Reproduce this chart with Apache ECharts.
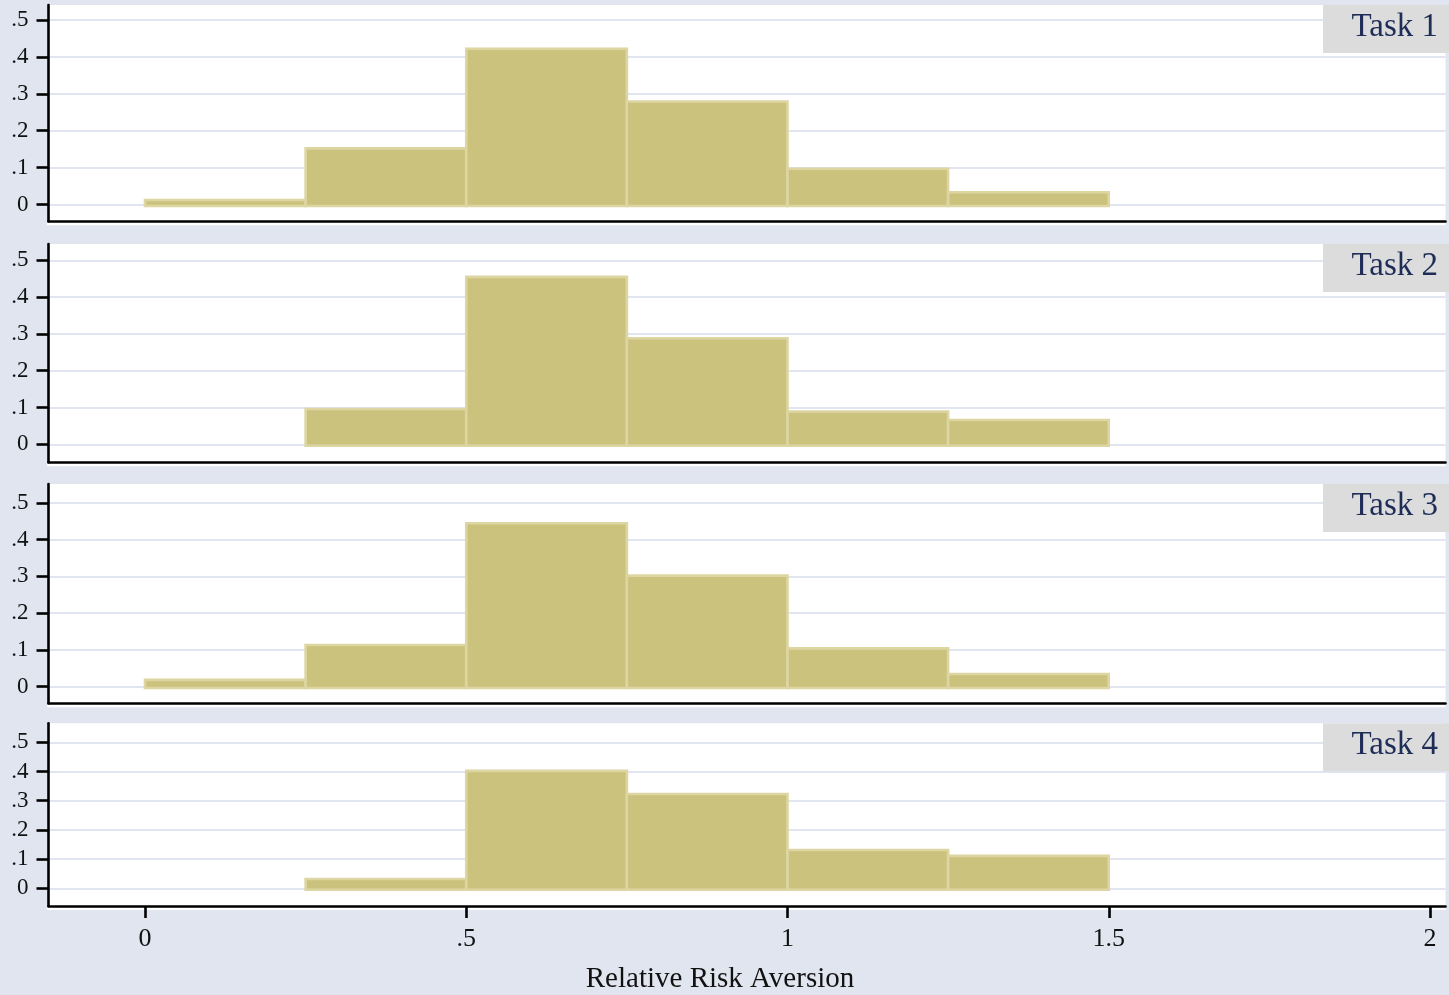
<!DOCTYPE html>
<html>
<head>
<meta charset="utf-8">
<script src="https://cdn.jsdelivr.net/npm/echarts@6/dist/echarts.min.js"></script>
<style>
  html, body { margin: 0; padding: 0; background: #e1e5f0; }
  #chart { width: 1449px; height: 995px; }
</style>
</head>
<body>
<div id="chart"></div>
<script>
// Histogram bins of relative risk aversion (width 0.25), fraction of subjects per bin
const binEdges = [0, 0.25, 0.5, 0.75, 1, 1.25, 1.5];
const panelNames = ['Task 1', 'Task 2', 'Task 3', 'Task 4'];
const task1 = [0.012, 0.152, 0.422, 0.279, 0.097, 0.033];
const task2 = [0, 0.096, 0.455, 0.288, 0.089, 0.066];
const task3 = [0.018, 0.113, 0.445, 0.302, 0.104, 0.034];
const task4 = [0, 0.032, 0.402, 0.323, 0.131, 0.111];
const fractions = [task1, task2, task3, task4];

const yTickValues = [0, 0.1, 0.2, 0.3, 0.4, 0.5];
const yTickLabels = ['0', '.1', '.2', '.3', '.4', '.5'];
const xTickValues = [0, 0.5, 1, 1.5, 2];
const xTickLabels = ['0', '.5', '1', '1.5', '2'];
const xTitle = 'Relative Risk Aversion';

// Panel geometry (pixels): top of plot, x-axis line, pixel of y = 0, pixels per unit
const panels = [
  { top: 5,     axis: 221.3, zero: 204.5, unit: 369 },
  { top: 244,   axis: 462.3, zero: 444.3, unit: 368 },
  { top: 484,   axis: 703.3, zero: 686.5, unit: 367 },
  { top: 723.3, axis: 906,   zero: 888.3, unit: 292 }
];
const plotLeft = 48.5, plotRight = 1445.5, xZeroPx = 145, xUnit = 642.5;
const xMin = (plotLeft - xZeroPx) / xUnit;
const xMax = (plotRight - xZeroPx) / xUnit;

const BG = '#e1e5f0';
const GRID = '#e1e5f0';
const BAR = '#cbc27e';
const BAR_EDGE = '#ddd6a2';
const FONT = '"Liberation Serif", "DejaVu Serif", serif';

function labelFrom(values, labels) {
  return v => {
    let idx = values.findIndex(t => Math.abs(t - v) < 1e-9);
    return idx >= 0 ? labels[idx] : '';
  };
}

const grids = [], xAxes = [], yAxes = [], series = [], graphics = [];

panels.forEach((p, i) => {
  const last = i === panels.length - 1;
  grids.push({
    left: plotLeft, width: plotRight - plotLeft,
    top: p.top, height: p.axis - p.top,
    show: true, backgroundColor: '#ffffff', borderWidth: 0,
    containLabel: false
  });
  xAxes.push({
    type: 'value', gridIndex: i, min: xMin, max: xMax,
    axisLine: { show: true, onZero: false, lineStyle: { color: '#000', width: 2.6 } },
    axisTick: { show: last, customValues: xTickValues, length: 12, inside: false,
                lineStyle: { color: '#000', width: 2.6 } },
    axisLabel: { show: last, customValues: xTickValues, margin: 20,
                 formatter: labelFrom(xTickValues, xTickLabels),
                 fontFamily: FONT, fontSize: 26, lineHeight: 26, color: '#111' },
    splitLine: { show: false }
  });
  yAxes.push({
    type: 'value', gridIndex: i,
    min: -(p.axis - p.zero) / p.unit,
    max: (p.zero - p.top) / p.unit,
    axisLine: { show: true, onZero: false, lineStyle: { color: '#000', width: 2.6 } },
    axisTick: { show: true, customValues: yTickValues, length: 12,
                lineStyle: { color: '#000', width: 2.6 } },
    axisLabel: { show: true, customValues: yTickValues, margin: 20,
                 formatter: labelFrom(yTickValues, yTickLabels),
                 fontFamily: FONT, fontSize: 23, color: '#111' },
    splitLine: { show: true, lineStyle: { color: GRID, width: 2.2 } }
  });

  const data = [];
  fractions[i].forEach((v, b) => {
    if (v > 0) data.push([binEdges[b], binEdges[b + 1], v]);
  });
  series.push({
    type: 'custom', xAxisIndex: i, yAxisIndex: i,
    encode: { x: [0, 1], y: 2 },
    data: data,
    renderItem: function (params, api) {
      const a = api.coord([api.value(0), api.value(2)]);
      const b = api.coord([api.value(1), 0]);
      return {
        type: 'rect',
        shape: { x: a[0], y: a[1], width: b[0] - a[0], height: b[1] - a[1] + 1.5 },
        style: { fill: BAR, stroke: BAR_EDGE, lineWidth: 2.6 }
      };
    }
  });

  // White strip just below the x-axis line
  graphics.push({
    type: 'rect', z: 0,
    shape: { x: plotLeft - 1.5, y: p.axis + 1.3, width: plotRight - plotLeft + 1.5, height: 2.7 },
    style: { fill: '#ffffff' }
  });
  // Panel caption box
  graphics.push({
    type: 'rect', z: 10,
    shape: { x: 1323, y: p.top, width: 126, height: 48 },
    style: { fill: '#dcdcdc' }
  });
  graphics.push({
    type: 'text', z: 11,
    x: 1438, y: p.top + 22,
    style: { text: panelNames[i], font: '33px ' + FONT, fill: '#1e2c58',
             textAlign: 'right', textVerticalAlign: 'middle' }
  });
});

graphics.push({
  type: 'text', z: 11,
  x: 720, y: 979,
  style: { text: xTitle, font: '29px ' + FONT, fill: '#111',
           textAlign: 'center', textVerticalAlign: 'middle' }
});

const chart = echarts.init(document.getElementById('chart'), null, { renderer: 'canvas' });
chart.setOption({
  backgroundColor: BG,
  animation: false,
  grid: grids,
  xAxis: xAxes,
  yAxis: yAxes,
  series: series,
  graphic: { elements: graphics }
});
</script>
</body>
</html>
